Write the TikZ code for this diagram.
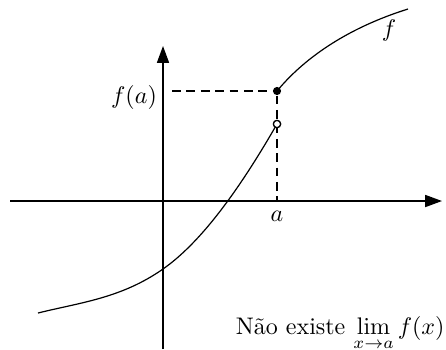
\documentclass[tikz,border=0pt]{standalone}
\usetikzlibrary{arrows.meta}
\begin{document}
\begin{tikzpicture}[x=0.4167pt,y=-0.4167pt,
  axis/.style={line width=0.6pt,-{Triangle[length=7pt,width=5pt]}},
  curve/.style={line width=0.5pt},
  guide/.style={line width=0.5pt,dash pattern=on 3.7pt off 2.3pt},
  fulldot/.style={circle,fill=black,inner sep=0pt,minimum size=3.4pt},
  opendot/.style={circle,draw=black,fill=white,line width=0.5pt,inner sep=0pt,minimum size=3pt},
  lbl/.style={inner sep=0pt}]
\useasboundingbox (0,0) rectangle (446,349);
% axis ends
\coordinate (xs) at (10,201);
\coordinate (xe) at (442,201);
\coordinate (ys) at (163,349);
\coordinate (ye) at (163,46);
\coordinate (yfa) at (172,91);
\coordinate (xa) at (277,201);
\coordinate (c0) at (38,313);
\coordinate (c1) at (163,269);
\coordinate (c2) at (408,9);
\draw[axis] (xs) -- (xe);
\draw[axis] (ys) -- (ye);
% dots
\node[fulldot] (fa) at (277,91) {};
\node[opendot] (lim) at (277,124) {};
% curves
\draw[curve] (c0) .. controls (80,302.5) and (121,298.4) .. (c1)
  .. controls (201,242.4) and (239,190.1) .. (lim.center);
\draw[curve] (fa.center) .. controls (311,50) and (360,24) .. (c2);
\draw[guide] (yfa) -- (fa);
\draw[guide] (fa) -- (xa);
\node[opendot] at (lim) {};
% labels
\node[lbl,anchor=base] (lfa) at (134,103.5) {$f(a)$};
\node[lbl] (la) at (277,216) {$a$};
\node[lbl] (lf) at (389,30) {$f$};
\node[lbl,anchor=base east] (txt) at (445,334) {Não existe $\displaystyle\lim_{x\to a} f(x)$};
\end{tikzpicture}
\end{document}
